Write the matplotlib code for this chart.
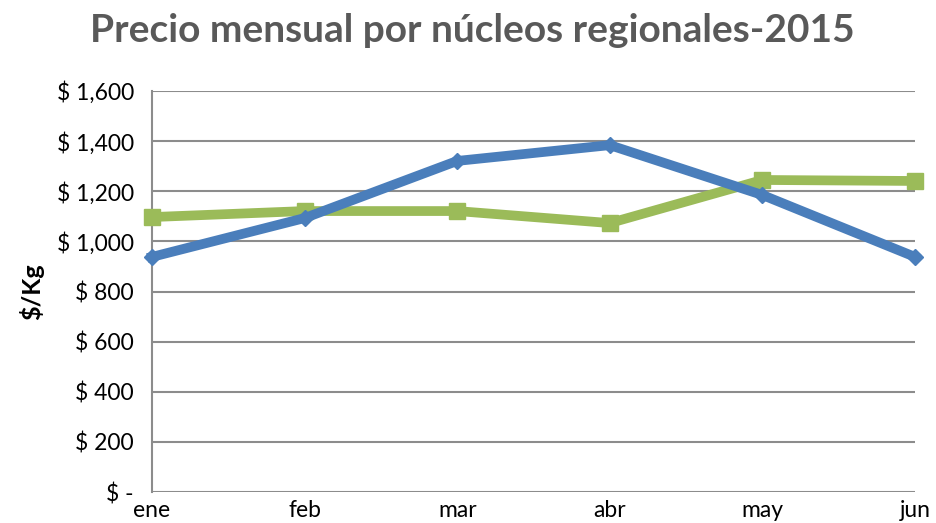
import matplotlib
matplotlib.use("Agg")
import matplotlib.pyplot as plt
from matplotlib.ticker import FuncFormatter

months = ["ene", "feb", "mar", "abr", "may", "jun"]
serie_azul = [938, 1093, 1321, 1384, 1185, 938]
serie_verde = [1097, 1121, 1121, 1073, 1245, 1241]
y_ticks = [0, 200, 400, 600, 800, 1000, 1200, 1400, 1600]

plt.rcParams['font.family'] = ['Lato', 'DejaVu Sans']

fig = plt.figure(figsize=(9.37, 5.23), dpi=100)
ax = fig.add_axes([152/937, 1-492/523, (915-152)/937, (492-91)/523])

x = list(range(len(months)))
ax.plot(x, serie_verde, color="#9BBB59", lw=7, marker="s", ms=11, solid_joinstyle="miter", clip_on=False, zorder=3)
ax.plot(x, serie_azul, color="#4A7EBB", lw=7, marker="D", ms=8, solid_joinstyle="miter", clip_on=False, zorder=4)

ax.set_xlim(0, 5)
ax.set_ylim(0, 1600)
ax.set_yticks(y_ticks)
ax.yaxis.set_major_formatter(FuncFormatter(lambda v, p: "$ -" if v == 0 else f"$ {int(v):,}"))
ax.set_xticks(x)
ax.set_xticklabels(months)
ax.tick_params(axis="both", length=0, labelsize=16.5, colors="black")
ax.tick_params(axis="x", pad=6)
ax.tick_params(axis="y", pad=13)
ax.grid(axis="y", color="#8C8C8C", lw=1.5)
ax.set_axisbelow(True)
for s in ["top", "right", "bottom"]:
    ax.spines[s].set_visible(False)
ax.spines["left"].set_color("#8C8C8C")
ax.spines["left"].set_linewidth(1.5)

ax.set_ylabel("$/Kg", fontsize=18, fontweight="bold", labelpad=9)
fig.text(472/937, 1-30/523, "Precio mensual por núcleos regionales-2015", ha="center", va="center",
         fontsize=28, fontweight="bold", color="#595959")

fig.savefig("out.png", dpi=100)
